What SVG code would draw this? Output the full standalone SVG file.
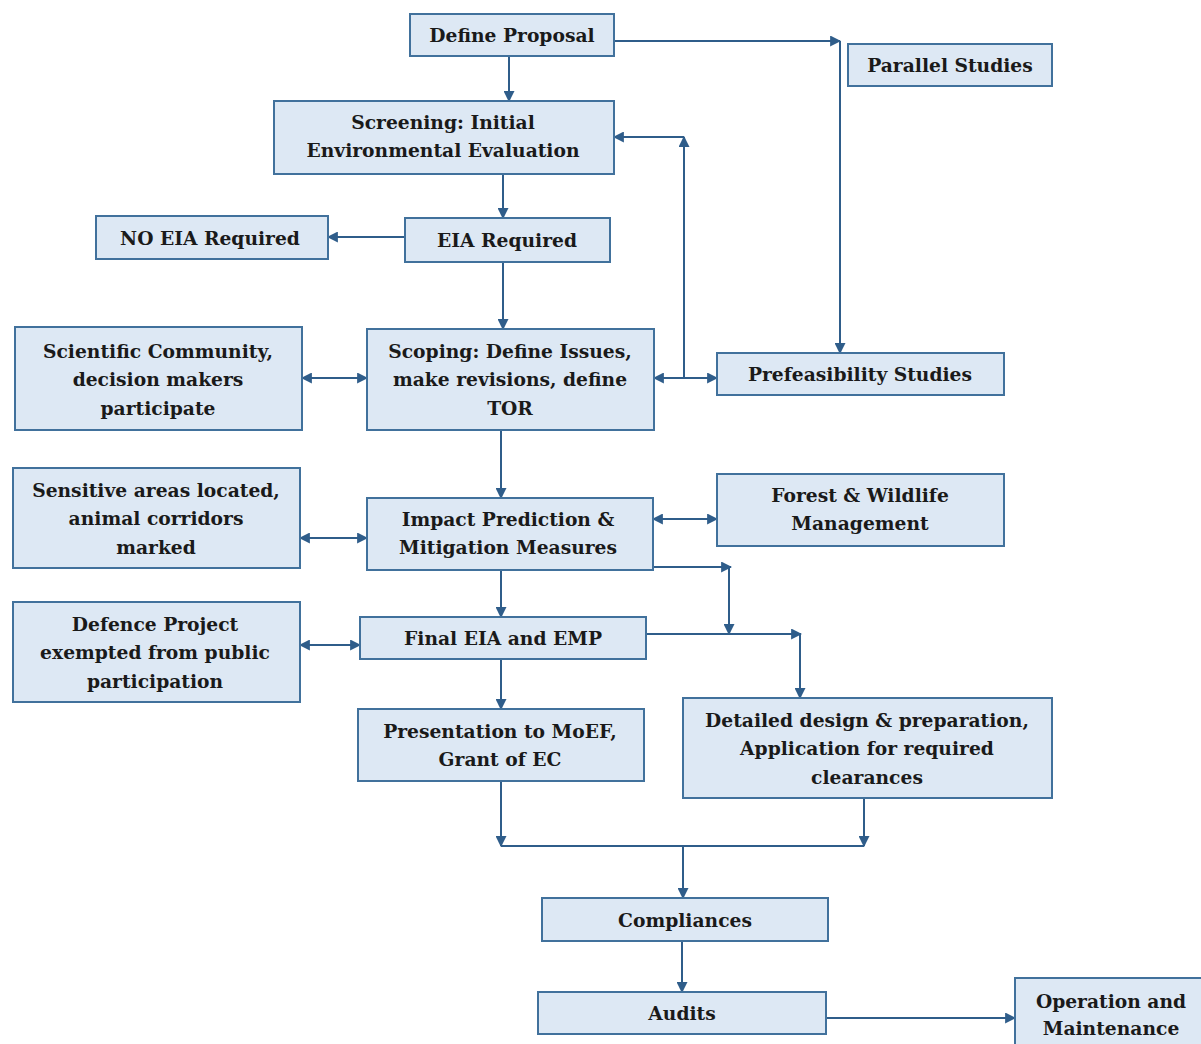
<svg xmlns="http://www.w3.org/2000/svg" width="1201" height="1044" viewBox="0 0 1201 1044">
<defs>
<marker id="ah" viewBox="0 0 10 10" refX="9" refY="5" markerWidth="11" markerHeight="11" markerUnits="userSpaceOnUse" orient="auto-start-reverse">
<path d="M0,0 L10,5 L0,10 z" fill="#2f5d8a"/>
</marker>
<style>
.b{fill:#dde8f4;stroke:#41719c;stroke-width:2}
.t{font-family:'DejaVu Serif',serif;font-weight:bold;font-size:18.7px;fill:#1a1a1a;text-anchor:middle}
.c{fill:none;stroke:#2f5d8a;stroke-width:2}
.e{marker-end:url(#ah)}
.s{marker-start:url(#ah)}
</style>
</defs>
<rect width="1201" height="1044" fill="#fff"/>
<g id="connectors">
<path class="c e" d="M509,56 V101"/>
<path class="c e" d="M614,41 H840"/>
<path class="c e" d="M840,41 V353"/>
<path class="c e" d="M503,174 V218"/>
<path class="c e" d="M405,237 H328"/>
<path class="c e" d="M503,262 V329"/>
<path class="c e s" d="M302,378 H367"/>
<path class="c e s" d="M654,378 H717"/>
<path class="c e" d="M684,378 V137"/>
<path class="c e" d="M684,137 H614"/>
<path class="c e" d="M501,430 V498"/>
<path class="c e s" d="M300,538 H367"/>
<path class="c e s" d="M653,519 H717"/>
<path class="c e" d="M653,567 H731"/>
<path class="c e" d="M729,567 V634"/>
<path class="c e" d="M501,570 V617"/>
<path class="c e s" d="M300,645 H360"/>
<path class="c e" d="M646,634 H801"/>
<path class="c e" d="M800,634 V698"/>
<path class="c e" d="M501,659 V709"/>
<path class="c e" d="M501,781 V846"/>
<path class="c e" d="M864,798 V846"/>
<path class="c" d="M501,846 H864"/>
<path class="c e" d="M683,846 V898"/>
<path class="c e" d="M682,941 V992"/>
<path class="c e" d="M826,1018 H1015"/>
</g>
<g id="n1"><rect class="b" x="410" y="14" width="204" height="42"/><text class="t" x="512" y="42">Define Proposal</text></g>
<g id="n2"><rect class="b" x="848" y="44" width="204" height="42"/><text class="t" x="950" y="72">Parallel Studies</text></g>
<g id="n3"><rect class="b" x="274" y="101" width="340" height="73"/><text class="t" x="443" y="129">Screening: Initial</text><text class="t" x="443" y="157">Environmental Evaluation</text></g>
<g id="n4"><rect class="b" x="96" y="216" width="232" height="43"/><text class="t" x="210" y="245">NO EIA Required</text></g>
<g id="n5"><rect class="b" x="405" y="218" width="205" height="44"/><text class="t" x="507" y="247">EIA Required</text></g>
<g id="n6"><rect class="b" x="15" y="327" width="287" height="103"/><text class="t" x="158" y="358">Scientific Community,</text><text class="t" x="158" y="386">decision makers</text><text class="t" x="158" y="415">participate</text></g>
<g id="n7"><rect class="b" x="367" y="329" width="287" height="101"/><text class="t" x="510" y="358">Scoping: Define Issues,</text><text class="t" x="510" y="386">make revisions, define</text><text class="t" x="510" y="415">TOR</text></g>
<g id="n8"><rect class="b" x="717" y="353" width="287" height="42"/><text class="t" x="860" y="381">Prefeasibility Studies</text></g>
<g id="n9"><rect class="b" x="13" y="468" width="287" height="100"/><text class="t" x="156" y="497">Sensitive areas located,</text><text class="t" x="156" y="525">animal corridors</text><text class="t" x="156" y="554">marked</text></g>
<g id="n10"><rect class="b" x="367" y="498" width="286" height="72"/><text class="t" x="508" y="526">Impact Prediction &amp;</text><text class="t" x="508" y="554">Mitigation Measures</text></g>
<g id="n11"><rect class="b" x="717" y="474" width="287" height="72"/><text class="t" x="860" y="502">Forest &amp; Wildlife</text><text class="t" x="860" y="530">Management</text></g>
<g id="n12"><rect class="b" x="13" y="602" width="287" height="100"/><text class="t" x="155" y="631">Defence Project</text><text class="t" x="155" y="659">exempted from public</text><text class="t" x="155" y="688">participation</text></g>
<g id="n13"><rect class="b" x="360" y="617" width="286" height="42"/><text class="t" x="503" y="645">Final EIA and EMP</text></g>
<g id="n14"><rect class="b" x="358" y="709" width="286" height="72"/><text class="t" x="500" y="738">Presentation to MoEF,</text><text class="t" x="500" y="766">Grant of EC</text></g>
<g id="n15"><rect class="b" x="683" y="698" width="369" height="100"/><text class="t" x="867" y="727">Detailed design &amp; preparation,</text><text class="t" x="867" y="755">Application for required</text><text class="t" x="867" y="784">clearances</text></g>
<g id="n16"><rect class="b" x="542" y="898" width="286" height="43"/><text class="t" x="685" y="927">Compliances</text></g>
<g id="n17"><rect class="b" x="538" y="992" width="288" height="42"/><text class="t" x="682" y="1020">Audits</text></g>
<g id="n18"><rect class="b" x="1015" y="978" width="196" height="80"/><text class="t" x="1111" y="1008">Operation and</text><text class="t" x="1111" y="1035">Maintenance</text></g>
</svg>
